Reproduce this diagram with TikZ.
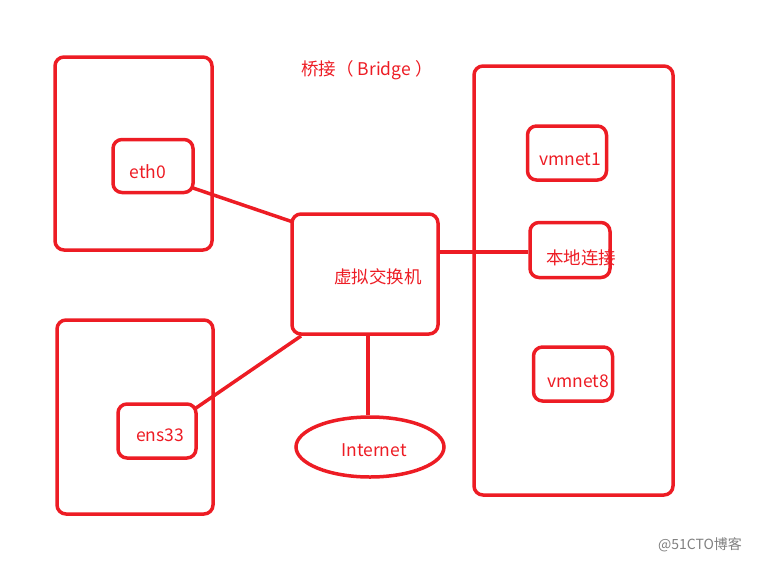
\documentclass[tikz,border=0pt]{standalone}
\usepackage{fontspec}
\setmainfont{Noto Sans CJK SC}
\usetikzlibrary{positioning,shapes}
\definecolor{pen}{RGB}{237,28,36}
\tikzset{
  box/.style={draw=pen,line width=3.5pt,rounded corners=9pt},
  lbl/.style={text=pen,font=\fontsize{17.5}{20}\selectfont,inner sep=0pt},
  link/.style={draw=pen,line width=3.5pt}
}
\begin{document}
\begin{tikzpicture}[x=1pt,y=-1pt]
\useasboundingbox (0,0) rectangle (758,563);
% host machines
\draw [box] (55,57) rectangle (212,250);
\draw [box] (57,320) rectangle (213,514);
\draw [box] (474,66) rectangle (673,495);
% interfaces
\node [box,minimum width=80pt,minimum height=53pt] (eth0) at (153,166) {};
\node [lbl] at (148,172) {eth0};
\node [box,minimum width=78pt,minimum height=54pt] (ens33) at (157,431) {};
\node [lbl] at (160,435) {ens33};
\node [box,minimum width=79pt,minimum height=54pt] (vmnet1) at (567,153) {};
\node [lbl] at (570,159) {vmnet1};
\node [box,minimum width=80pt,minimum height=55pt] (local) at (570,250) {};
\node [lbl] at (581,258) {本地连接};
\node [box,minimum width=79pt,minimum height=54pt] (vmnet8) at (573,374) {};
\node [lbl] at (578,381) {vmnet8};
% switch and internet
\node [box,minimum width=146pt,minimum height=120pt] (switch) at (365,274) {};
\node [lbl] at (378,277) {虚拟交换机};
\node [draw=pen,line width=3.5pt,ellipse,minimum width=148pt,minimum height=60pt] (inet) at (370,447) {};
\node [lbl] at (374,450) {Internet};
\node [lbl] (title) at (367,70) {桥接（ Bridge ）};
% links
\coordinate (a1) at (193,188); \coordinate (a2) at (293,222);
\draw [link] (a1) -- (a2);
\coordinate (b1) at (196,408); \coordinate (b2) at (301,336);
\draw [link] (b1) -- (b2);
\draw [link] (368,334) -- (inet.north -| 368,0);
\draw [link] (438,252) -- (local.west |- 0,252);
% watermark
\node [text=gray,font=\fontsize{14}{16}\selectfont,inner sep=0pt] at (700,545) {@51CTO博客};
\end{tikzpicture}
\end{document}
